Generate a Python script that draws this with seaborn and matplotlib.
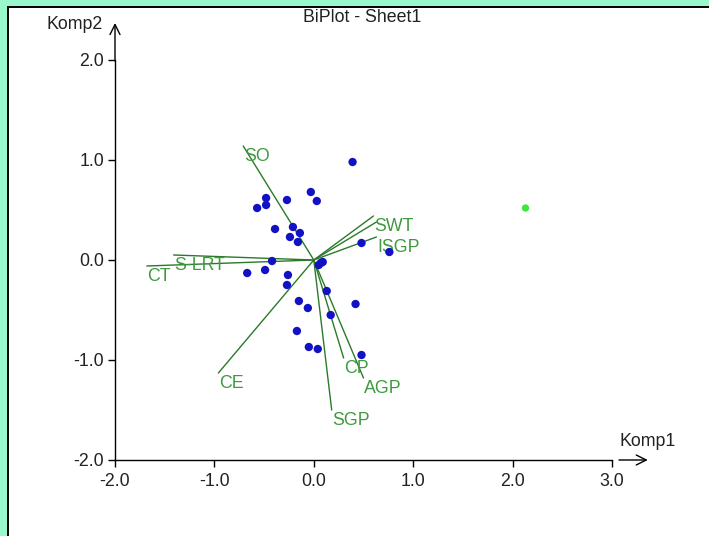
import matplotlib
matplotlib.use("Agg")
import matplotlib.pyplot as plt
import seaborn as sns
import pandas as pd
from matplotlib.patches import Rectangle

# ---- data ----
obs_x = [0.39, -0.57, -0.48, -0.48, -0.27, -0.03, 0.03, -0.39, -0.21, -0.14,
         -0.24, -0.16, 0.48, 0.76, -0.42, -0.49, -0.67, -0.26, -0.27, 0.07,
         0.09, 0.05, 0.13, -0.15, -0.06, 0.42, 0.17, -0.17, -0.05, 0.04, 0.48]
obs_y = [0.98, 0.52, 0.62, 0.55, 0.60, 0.68, 0.59, 0.31, 0.33, 0.27,
         0.23, 0.18, 0.17, 0.08, -0.01, -0.10, -0.13, -0.15, -0.25, -0.03,
         -0.02, -0.05, -0.31, -0.41, -0.48, -0.44, -0.55, -0.71, -0.87, -0.89, -0.95]
out_x = [2.13]
out_y = [0.52]

var_names = ["SO", "SWT", "", "ISGP", "S-LRT", "CT", "CE", "SGP", "CP", "AGP"]
var_x = [-0.71, 0.60, 0.63, 0.63, -1.41, -1.68, -0.96, 0.18, 0.30, 0.50]
var_y = [1.14, 0.44, 0.38, 0.23, 0.05, -0.06, -1.13, -1.50, -0.98, -1.18]

x_ticks = [-2.0, -1.0, 0.0, 1.0, 2.0, 3.0]
y_ticks = [-2.0, -1.0, 0.0, 1.0, 2.0]
title = "BiPlot - Sheet1"
x_label = "Komp1"
y_label = "Komp2"

# ---- style ----
sns.set_style("white")
plt.rcParams["font.family"] = ["Liberation Sans", "DejaVu Sans"]
FS = 12.8

W, H = 709, 536
fig = plt.figure(figsize=(W / 100, H / 100), dpi=100)
fig.patch.set_facecolor("#99f8cb")

# white panel with dark left/top border
bg = fig.add_axes([0, 0, 1, 1], zorder=-10)
bg.set_xlim(0, W)
bg.set_ylim(H, 0)
bg.axis("off")
bg.add_patch(Rectangle((7.5, 6.5), W + 20, H + 20, facecolor="white",
                       edgecolor="black", lw=1.4, clip_on=False))

ax = fig.add_axes([115 / W, 76 / H, 497 / W, 400 / H])
ax.set_facecolor("none")
ax.set_xlim(-2, 3)
ax.set_ylim(-2, 2)
for s in ["top", "right"]:
    ax.spines[s].set_visible(False)
for s in ["left", "bottom"]:
    ax.spines[s].set_color("black")
    ax.spines[s].set_linewidth(1.0)

ax.set_xticks(x_ticks)
ax.set_yticks(y_ticks)
ax.set_xticklabels([f"{v:.1f}" for v in x_ticks])
ax.set_yticklabels([f"{v:.1f}" for v in y_ticks])
ax.tick_params(axis="both", direction="out", length=5, width=1.0, color="black",
               labelsize=FS, labelcolor="#222222", pad=3)
ax.tick_params(axis="x", bottom=True, pad=4)
ax.tick_params(axis="y", left=True)

# vectors
line_col = "#2a7a2a"
text_col = "#3f9a3f"
for name, vx, vy in zip(var_names, var_x, var_y):
    ax.plot([0, vx], [0, vy], color=line_col, lw=1.0, zorder=2)
    if name:
        ax.annotate(name, xy=(vx, vy), xytext=(0.5, -1.5), textcoords="offset points",
                    color=text_col, fontsize=FS, ha="left", va="top", zorder=3)

# points
df = pd.DataFrame({"x": obs_x, "y": obs_y})
sns.scatterplot(data=df, x="x", y="y", ax=ax, color="#1212c4", s=36,
                edgecolor="none", zorder=4)
df2 = pd.DataFrame({"x": out_x, "y": out_y})
sns.scatterplot(data=df2, x="x", y="y", ax=ax, color="#3be83b", s=28,
                edgecolor="none", zorder=4)
ax.set_xlabel("")
ax.set_ylabel("")

# axis arrows
ax.annotate("", xy=(-2, 2.37), xytext=(-2, 1.99), annotation_clip=False,
            arrowprops=dict(arrowstyle="->", lw=1.0, color="black",
                            mutation_scale=18, shrinkA=0, shrinkB=0))
ax.annotate("", xy=(3.36, -2.0), xytext=(3.07, -2.0), annotation_clip=False,
            arrowprops=dict(arrowstyle="->", lw=1.0, color="black",
                            mutation_scale=18, shrinkA=0, shrinkB=0))

ax.text(3.08, -1.9, x_label, fontsize=FS, color="#222222", ha="left",
        va="bottom", clip_on=False)
fig.text(103 / W, 1 - 29 / H, y_label, fontsize=FS, color="#222222",
         ha="right", va="baseline")
fig.text(362 / W, 1 - 17 / H, title, fontsize=FS, color="#222222",
         ha="center", va="center")

fig.savefig("out.png", dpi=100, facecolor=fig.get_facecolor())
